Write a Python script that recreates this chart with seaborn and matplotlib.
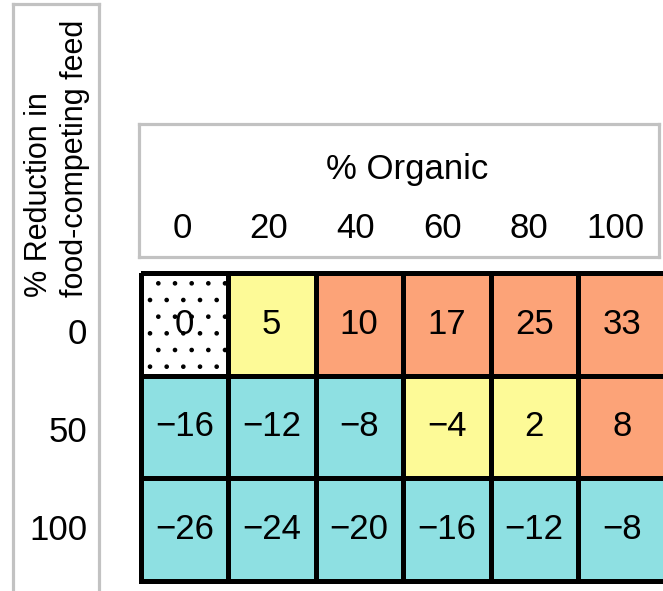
import numpy as np
import pandas as pd
import matplotlib
matplotlib.use("Agg")
import matplotlib.pyplot as plt
from matplotlib.colors import ListedColormap, BoundaryNorm
from matplotlib.patches import Rectangle
import seaborn as sns

# Change in land use (%) by share of organic production and
# reduction in food-competing feed
organic_levels = ["0", "20", "40", "60", "80", "100"]
feed_reduction = ["0", "50", "100"]
row_0 = [0, 5, 10, 17, 25, 33]
row_50 = [-16, -12, -8, -4, 2, 8]
row_100 = [-26, -24, -20, -16, -12, -8]

x_title = "% Organic"
y_title = "% Reduction in\nfood-competing feed"

sns.set_style("white")
plt.rcParams["font.family"] = ["Liberation Sans", "DejaVu Sans"]
plt.rcParams["text.color"] = "black"
plt.rcParams["hatch.linewidth"] = 0.9

values = pd.DataFrame([row_0, row_50, row_100], index=feed_reduction, columns=organic_levels)
labels = values.map(lambda v: str(v).replace("-", "\u2212"))

# binned colours: strong decrease, small change, baseline, small change, strong increase
cyan, yellow, orange = "#8ee0e2", "#fdfa97", "#fca378"
cmap = ListedColormap([cyan, yellow, "white", yellow, orange])
norm = BoundaryNorm([-100, -6, -0.5, 0.5, 6.5, 100], cmap.N)

W, H = 663, 591
fig = plt.figure(figsize=(W / 100, H / 100), dpi=100)


def px_axes(x0, y0, x1, y1):
    """Axes from pixel box (left, top, right, bottom)."""
    return fig.add_axes([x0 / W, 1 - y1 / H, (x1 - x0) / W, (y1 - y0) / H])


FS = 25
grey = "#c2c2c2"

# main grid
ax = px_axes(140.5, 273, 665.5, 580.5)
sns.heatmap(values, ax=ax, cmap=cmap, norm=norm, annot=labels, fmt="",
            annot_kws={"fontsize": FS, "color": "black"},
            linewidths=3.3, linecolor="black", cbar=False,
            xticklabels=False, yticklabels=False)
ax.collections[0].set_clip_on(False)
ax.set_xlabel("")
ax.set_ylabel("")

# stippled baseline cell
arr = values.to_numpy()
for (r, c) in zip(*np.where(arr == 0)):
    ax.add_patch(Rectangle((c, r), 1, 1, fill=False, hatch=".",
                           edgecolor="black", linewidth=0, zorder=1.5))

# column header box
axt = px_axes(138.5, 124, 659, 257)
axt.set_xlim(0, len(organic_levels))
axt.set_ylim(0, 1)
axt.set_xticks([])
axt.set_yticks([])
for s in axt.spines.values():
    s.set_color(grey)
    s.set_linewidth(2.3)
for i, lab in enumerate(organic_levels):
    axt.text(i + 0.5, 0.218, lab, ha="center", va="center", fontsize=FS)
axt.text((407 - 138.5) / (659 - 138.5), 0.66, x_title, transform=axt.transAxes,
         ha="center", va="center", fontsize=FS)

# row header box
axl = px_axes(13, 4, 99, 620)
axl.set_xticks([])
axl.set_yticks([])
for s in axl.spines.values():
    s.set_color(grey)
    s.set_linewidth(2.3)
for i, lab in enumerate(feed_reduction):
    fig.text(87 / W, 1 - (335 + 97.5 * i) / H, lab, ha="right", va="center", fontsize=FS)
fig.text(57 / W, 1 - 297 / H, y_title, rotation=90, ha="center", va="bottom",
         multialignment="left", fontsize=22, linespacing=1.3)

fig.savefig("out.png", dpi=100)
